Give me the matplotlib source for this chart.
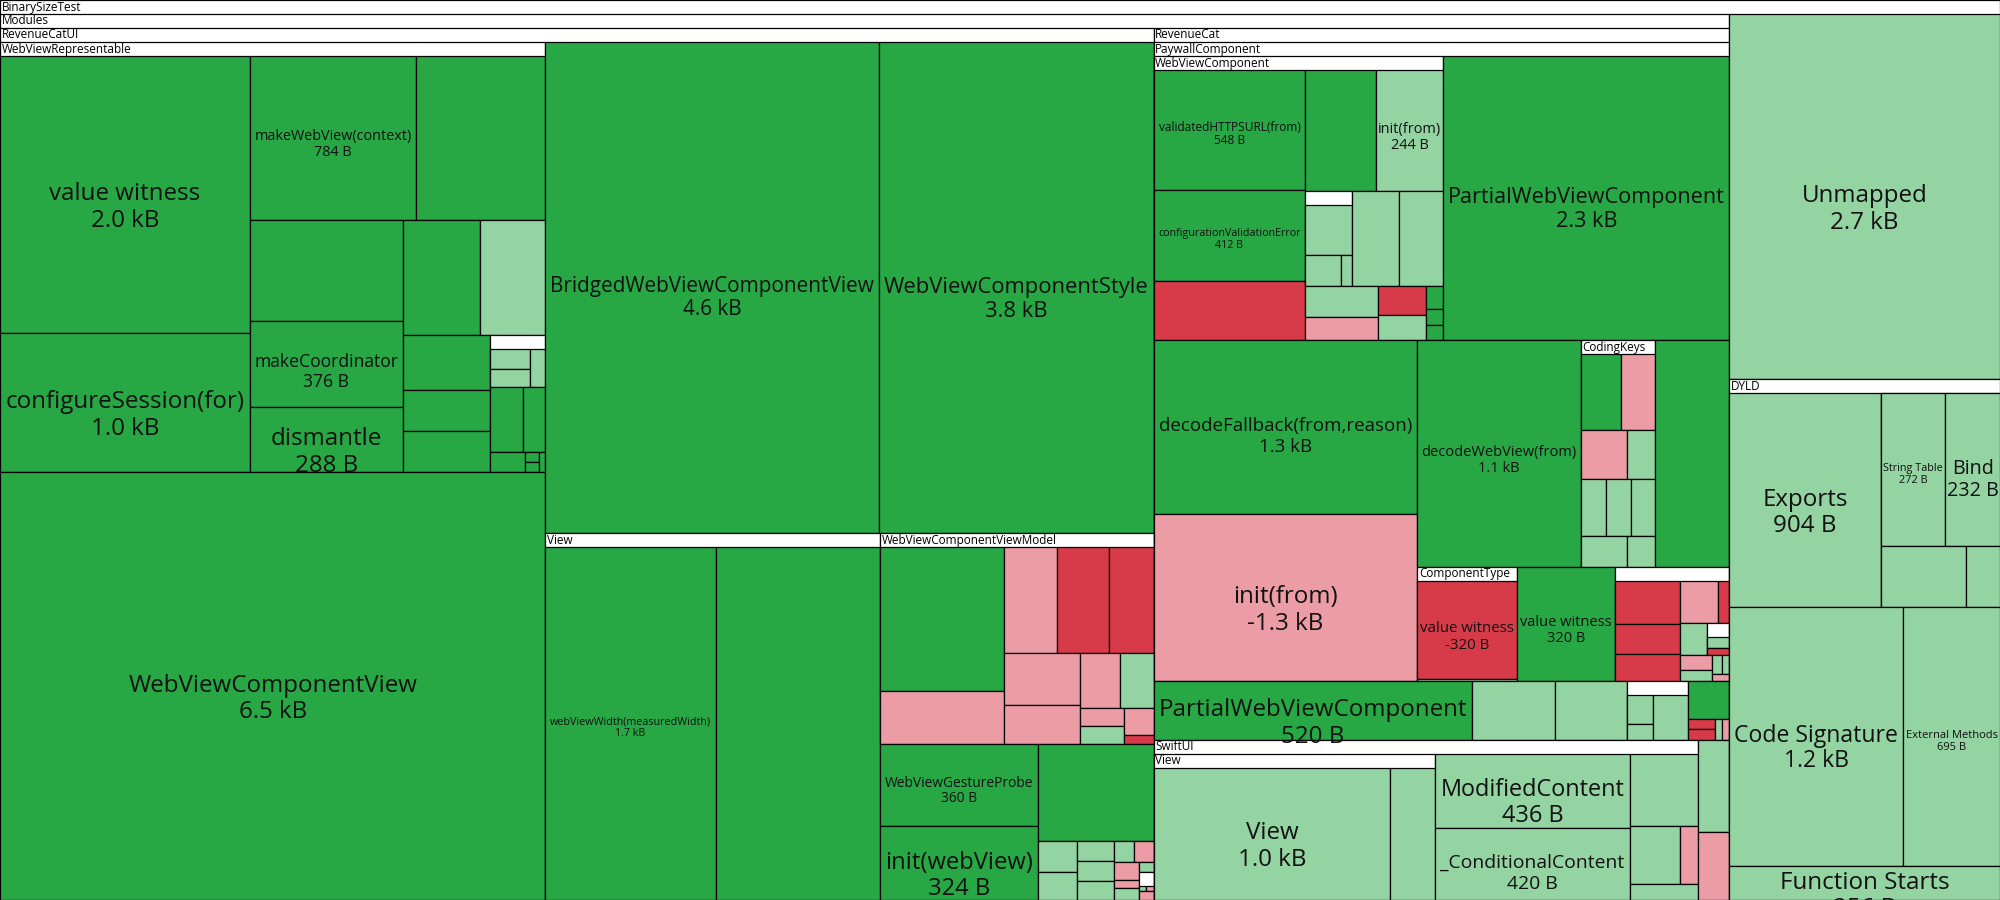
import matplotlib.pyplot as plt
from matplotlib.patches import Rectangle

plt.rcParams['font.family'] = ['Open Sans', 'DejaVu Sans']

PHI = (1 + 5 ** 0.5) / 2
W, H = 2000, 900
HEADER = 14
MAX_PT = 17.4

# A = added, I = grew, R = removed, D = shrank, G = sub-group (taken from subs in order)
COLORS = {'A': '#28a745', 'I': '#94d3a2', 'R': '#d73a49', 'D': '#eb9ca4'}

ROOT_NAMES = ['Modules', 'Unmapped', 'DYLD']
ROOT_SIZES = [0, 2670, 0]
ROOT_KINDS = ['G', 'I', 'G']

MOD_NAMES = ['RevenueCatUI', 'RevenueCat', 'SwiftUI', '', '']
MOD_SIZES = [0, 0, 0, 78, 58]
MOD_KINDS = ['G', 'G', 'G', 'I', 'D']

RCUI_NAMES = ['WebViewRepresentable', 'WebViewComponentView', 'BridgedWebViewComponentView',
              'WebViewComponentStyle', 'View', 'WebViewComponentViewModel', 'WebViewGestureProbe',
              'init(webView)', '', '', '', '', '', '', '', '', '', '', '', '', '', '']
RCUI_SIZES = [0, 6500, 4570, 3760, 0, 0, 360, 324, 313, 34, 31, 21, 20, 20, 12, 12, 12, 6, 8, 4, 0, 4]
RCUI_KINDS = ['G', 'A', 'A', 'A', 'G', 'G', 'A', 'A', 'A', 'I', 'I', 'I', 'I', 'I',
              'I', 'D', 'D', 'D', 'I', 'I', 'G', 'D']

TAIL_SIZES = [4, 4]
TAIL_KINDS = ['I', 'D']

WVR_NAMES = ['value witness', 'configureSession(for)', 'makeWebView(context)', '', '',
             'makeCoordinator', 'dismantle', '', '', '', '', '', '', '', '', '', '', '', '']
WVR_SIZES = [1996, 1000, 784, 608, 447, 376, 288, 256, 219, 139, 104, 104, 0, 61, 42, 20, 4, 4, 4]
WVR_KINDS = ['A', 'A', 'A', 'A', 'A', 'A', 'A', 'A', 'I', 'A', 'A', 'A', 'G', 'A', 'A', 'A', 'A', 'A', 'A']

WVR_SUB_SIZES = [31, 28, 23]
WVR_SUB_KINDS = ['I', 'I', 'I']

UIVIEW_NAMES = ['webViewWidth(measuredWidth)', '']
UIVIEW_SIZES = [1738, 1683]
UIVIEW_KINDS = ['A', 'A']

VM_SIZES = [529, 193, 168, 165, 141, 118, 89, 66, 55, 24, 23, 23, 8]
VM_KINDS = ['A', 'D', 'D', 'R', 'R', 'D', 'D', 'D', 'I', 'D', 'I', 'D', 'R']

RC_NAMES = ['PaywallComponent', 'PartialWebViewComponent', '', '', '', '', '', '', '', '']
RC_SIZES = [0, 520, 135, 117, 0, 43, 8, 8, 4, 4]
RC_KINDS = ['G', 'A', 'I', 'I', 'G', 'A', 'R', 'R', 'I', 'D']

RC_SUB_SIZES = [28, 15, 57]
RC_SUB_KINDS = ['I', 'I', 'I']

PC_NAMES = ['WebViewComponent', 'PartialWebViewComponent', 'decodeFallback(from,reason)', 'init(from)',
            'decodeWebView(from)', 'CodingKeys', '', 'ComponentType', 'value witness', '']
PC_SIZES = [0, 2320, 1310, 1260, 1060, 0, 477, 0, 320, 0]
PC_KINDS = ['G', 'A', 'A', 'D', 'A', 'G', 'A', 'G', 'A', 'G']

WVC_NAMES = ['validatedHTTPSURL(from)', 'configurationValidationError', '', '', 'init(from)',
             '', '', '', '', '', '', '', '', '', '']
WVC_SIZES = [548, 412, 271, 258, 244, 0, 132, 128, 70, 50, 43, 36, 12, 8, 8]
WVC_KINDS = ['A', 'A', 'R', 'A', 'I', 'G', 'I', 'I', 'I', 'D', 'R', 'I', 'A', 'A', 'A']

WVC_SUB_SIZES = [84, 38, 12]
WVC_SUB_KINDS = ['I', 'I', 'I']

CK_SIZES = [91, 80, 68, 43, 43, 43, 43, 43, 27]
CK_KINDS = ['A', 'D', 'D', 'I', 'I', 'I', 'I', 'I', 'I']

CT_NAMES = ['value witness', '']
CT_SIZES = [320, 7]
CT_KINDS = ['R', 'I']

PC_SUB_SIZES = [93, 63, 59, 52, 15, 29, 0, 15, 12, 6, 4, 4]
PC_SUB_KINDS = ['R', 'R', 'R', 'D', 'R', 'I', 'G', 'D', 'I', 'I', 'I', 'D']

PC_SUB2_SIZES = [14, 9]
PC_SUB2_KINDS = ['I', 'R']

SUI_NAMES = ['View', 'ModifiedContent', '_ConditionalContent', '', '', '', '']
SUI_SIZES = [0, 436, 420, 149, 87, 31, 33]
SUI_KINDS = ['G', 'I', 'I', 'I', 'I', 'D', 'I']

SUIVIEW_NAMES = ['View', '']
SUIVIEW_SIZES = [1040, 197]
SUIVIEW_KINDS = ['I', 'I']

DYLD_NAMES = ['Exports', '', 'Code Signature', 'External Methods', 'Function Starts']
DYLD_SIZES = [904, 0, 1249, 695, 256]
DYLD_KINDS = ['I', 'G', 'I', 'I', 'I']

DYLD_SUB_NAMES = ['String Table', 'Bind', '', '']
DYLD_SUB_SIZES = [272, 232, 142, 58]
DYLD_SUB_KINDS = ['I', 'I', 'I', 'I']


def group(label, names, sizes, kinds, subs=()):
    subs = iter(subs)
    if names is None:
        names = [''] * len(sizes)
    kids = []
    for name, size, kind in zip(names, sizes, kinds):
        if kind == 'G':
            kids.append(next(subs))
        else:
            kids.append({'name': name, 'value': size, 'kind': kind})
    return {'name': label, 'children': kids, 'value': sum(k['value'] for k in kids)}


wvr = group('WebViewRepresentable', WVR_NAMES, WVR_SIZES, WVR_KINDS,
            [group('', None, WVR_SUB_SIZES, WVR_SUB_KINDS)])
rcui = group('RevenueCatUI', RCUI_NAMES, RCUI_SIZES, RCUI_KINDS, [
    wvr,
    group('View', UIVIEW_NAMES, UIVIEW_SIZES, UIVIEW_KINDS),
    group('WebViewComponentViewModel', None, VM_SIZES, VM_KINDS),
    group('', None, TAIL_SIZES, TAIL_KINDS),
])
paywall = group('PaywallComponent', PC_NAMES, PC_SIZES, PC_KINDS, [
    group('WebViewComponent', WVC_NAMES, WVC_SIZES, WVC_KINDS,
          [group('', None, WVC_SUB_SIZES, WVC_SUB_KINDS)]),
    group('CodingKeys', None, CK_SIZES, CK_KINDS),
    group('ComponentType', CT_NAMES, CT_SIZES, CT_KINDS),
    group('', None, PC_SUB_SIZES, PC_SUB_KINDS, [group('', None, PC_SUB2_SIZES, PC_SUB2_KINDS)]),
])
rc = group('RevenueCat', RC_NAMES, RC_SIZES, RC_KINDS,
           [paywall, group('', None, RC_SUB_SIZES, RC_SUB_KINDS)])
swiftui = group('SwiftUI', SUI_NAMES, SUI_SIZES, SUI_KINDS,
                [group('View', SUIVIEW_NAMES, SUIVIEW_SIZES, SUIVIEW_KINDS)])
modules = group('Modules', MOD_NAMES, MOD_SIZES, MOD_KINDS, [rcui, rc, swiftui])
dyld = group('DYLD', DYLD_NAMES, DYLD_SIZES, DYLD_KINDS,
             [group(None, DYLD_SUB_NAMES, DYLD_SUB_SIZES, DYLD_SUB_KINDS)])
root = group('BinarySizeTest', ROOT_NAMES, ROOT_SIZES, ROOT_KINDS, [modules, dyld])


def squarify(values, x0, y0, x1, y1):
    # same rows as d3.treemapSquarify (golden ratio), children kept in given order
    rects = [None] * len(values)
    value = sum(values)
    n = len(values)
    i0 = 0
    while i0 < n:
        dx, dy = x1 - x0, y1 - y0
        i1 = i0 + 1
        total = lo = hi = values[i0]
        alpha = max(dy / dx, dx / dy) / (value * PHI)
        beta = total * total * alpha
        best = max(hi / beta, beta / lo)
        while i1 < n:
            v = values[i1]
            s = total + v
            beta = s * s * alpha
            r = max(max(hi, v) / beta, beta / min(lo, v))
            if r > best:
                break
            total, lo, hi, best = s, min(lo, v), max(hi, v), r
            i1 += 1
        if dx < dy:
            ny = y0 + dy * total / value
            x = x0
            for i in range(i0, i1):
                w = (x1 - x0) * values[i] / total
                rects[i] = (x, y0, x + w, ny)
                x += w
            y0 = ny
        else:
            nx = x0 + dx * total / value
            y = y0
            for i in range(i0, i1):
                h = (y1 - y0) * values[i] / total
                rects[i] = (x0, y, nx, y + h)
                y += h
            x0 = nx
        value -= total
        i0 = i1
    return rects


def size_label(node):
    v = -node['value'] if node['kind'] in 'RD' else node['value']
    if abs(v) >= 1000:
        return f'{v / 1000:.1f} kB'
    return f'{v} B'


fig = plt.figure(figsize=(20, 9), dpi=100)
ax = fig.add_axes([0, 0, 1, 1])
ax.set_xlim(0, W)
ax.set_ylim(H, 0)
ax.axis('off')
renderer = fig.canvas.get_renderer()
PX = 100 / 72


def fit_size(lines, width):
    probe = [ax.text(0, 0, s, fontsize=10) for s in lines]
    widest = max(t.get_window_extent(renderer).width for t in probe)
    for t in probe:
        t.remove()
    pad = min(10, 0.06 * width)
    return min(MAX_PT, 10 * (width - pad) / widest)


def draw(node, x0, y0, x1, y1):
    kids = node.get('children')
    face = 'white' if kids else COLORS[node['kind']]
    box = Rectangle((x0, y0), x1 - x0, y1 - y0, facecolor=face,
                    edgecolor='black', linewidth=0.9)
    ax.add_patch(box)
    if kids:
        top = y0
        if node['name'] is not None:
            t = ax.text(x0 + 1.5, y0 + 10.5, node['name'], fontsize=8.5,
                        va='baseline', ha='left', color='black')
            t.set_clip_path(box)
            top = y0 + HEADER
        if top >= y1:
            return
        rects = squarify([k['value'] for k in kids], x0, top, x1, y1)
        for kid, r in zip(kids, rects):
            draw(kid, *r)
    elif node['name']:
        lines = [node['name'], size_label(node)]
        fs = fit_size(lines, x1 - x0)
        fpx = fs * PX
        cx, cy = (x0 + x1) / 2, (y0 + y1) / 2
        base = cy + 0.357 * fpx - 3
        for j, s in enumerate(lines):
            t = ax.text(cx, base + j * 1.1 * fpx, s, fontsize=fs, ha='center',
                        va='baseline', color='#111111')
            t.set_clip_path(box)


draw(root, 0, 0, W, H)

fig.savefig('out.png', dpi=100)
